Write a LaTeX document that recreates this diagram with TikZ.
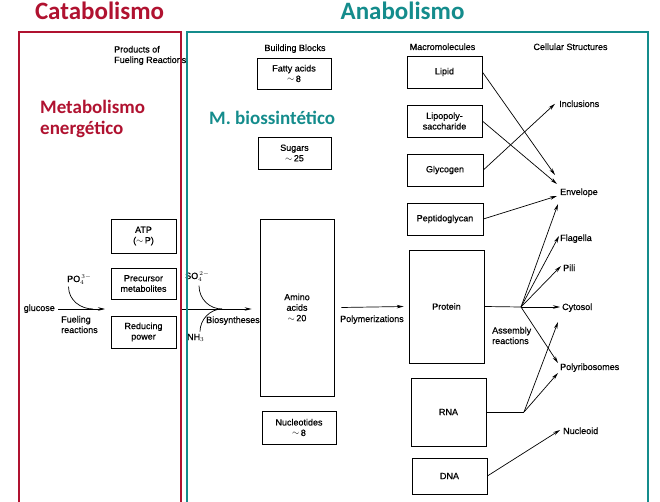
\documentclass[tikz,border=0pt]{standalone}
\usepackage{fontspec}
\setmainfont[FakeBold=0.6]{Liberation Sans}
\newfontfamily\titlefont{Carlito}
\usepackage{xcolor}
\usetikzlibrary{arrows.meta}

\definecolor{catared}{RGB}{176,18,48}
\definecolor{anateal}{RGB}{20,140,140}

\tikzset{
  blk/.style={draw, line width=0.7pt, inner sep=0pt, align=center,
    font=\fontsize{9}{10.5}\selectfont},
  lbl/.style={inner sep=0pt, align=left, font=\fontsize{9}{10.5}\selectfont},
  flow/.style={line width=0.7pt, -{Stealth[length=7pt,width=3.5pt]}},
  bigtitle/.style={inner sep=0pt, font=\titlefont\bfseries\fontsize{25}{28}\selectfont},
  subtitle/.style={inner sep=0pt, align=left, font=\titlefont\bfseries\fontsize{19}{21}\selectfont},
  framebox/.style={line width=2.5pt}
}

\begin{document}
\begin{tikzpicture}[x=1pt, y=-1pt]
        \useasboundingbox (0,0) rectangle (660,502);
        % Titles
        \node[bigtitle, text=catared, anchor=base] (cata) at (99.5,20) {Catabolismo};
        \node[bigtitle, text=anateal, anchor=base] (ana) at (402.5,20) {Anabolismo};
        \node[subtitle, text=catared, anchor=base west] (energ) at (40,135) {Metabolismo\\energético};
        \node[subtitle, text=anateal, anchor=base west] (biosint) at (209,125) {M. biossintético};
        % Headers
        \node[lbl, anchor=base west] (prodhead) at (114,63) {Products of\\Fueling Reactions};
        \node[lbl, anchor=base] (bbhead) at (295,51) {Building Blocks};
        \node[lbl, anchor=base] (mmhead) at (442.5,50) {Macromolecules};
        \node[lbl, anchor=base] (cshead) at (570.5,50) {Cellular Structures};
        % Fueling products
        \node[blk, minimum width=65, minimum height=34] (atp) at (143.5,236) {ATP\\($\sim$\,P)};
        \node[blk, minimum width=65, minimum height=31] (prec) at (143.5,283.5) {Precursor\\metabolites};
        \node[blk, minimum width=65, minimum height=32] (redpow) at (143.5,332) {Reducing\\power};
        % Building blocks
        \node[blk, minimum width=74, minimum height=31] (fatty) at (294,73.5) {Fatty acids\\$\sim$\,8};
        \node[blk, minimum width=73, minimum height=32] (sugars) at (294.5,153) {Sugars\\$\sim$\,25};
        \node[blk, minimum width=74, minimum height=177] (amino) at (297,307.5) {Amino\\acids\\$\sim$\,20};
        \node[blk, minimum width=74, minimum height=33] (nucl) at (299,427.5) {Nucleotides\\$\sim$\,8};
        % Macromolecules
        \node[blk, minimum width=75, minimum height=32] (lipid) at (444.5,72) {Lipid};
        \node[blk, minimum width=75, minimum height=32] (lps) at (444.5,121) {Lipopoly-\\saccharide};
        \node[blk, minimum width=76, minimum height=32] (glyc) at (445,170) {Glycogen};
        \node[blk, minimum width=76, minimum height=32] (pept) at (445,219) {Peptidoglycan};
        \node[blk, minimum width=75, minimum height=113] (prot) at (446.5,306.5) {Protein};
        \node[blk, minimum width=75, minimum height=68] (rna) at (448.5,412) {RNA};
        \node[blk, minimum width=75, minimum height=36] (dna) at (449.5,476) {DNA};
        % Cellular structures
        \node[lbl, anchor=base west] (incl) at (559,107) {Inclusions};
        \node[lbl, anchor=base west] (env) at (560,195) {Envelope};
        \node[lbl, anchor=base west] (flag) at (560,241) {Flagella};
        \node[lbl, anchor=base west] (pili) at (563,271) {Pili};
        \node[lbl, anchor=base west] (cyto) at (562,310) {Cytosol};
        \node[lbl, anchor=base west] (polyr) at (560,370) {Polyribosomes};
        \node[lbl, anchor=base west] (nucleoid) at (563,434) {Nucleoid};
        % Reaction labels
        \node[lbl, anchor=base east] (glucose) at (55,311) {glucose};
        \node[lbl, anchor=base west] (po4) at (67,282) {PO$_4^{\,3-}$};
        \node[lbl, anchor=base west] (fuel) at (61,333) {Fueling\\reactions};
        \node[lbl, anchor=base west] (so4) at (185,279) {SO$_4^{\,2-}$};
        \node[lbl, anchor=base west] (nh3) at (187,340) {NH$_3$};
        \node[lbl, anchor=base west] (biosyn) at (206,323) {Biosyntheses};
        \node[lbl, anchor=base west] (polym) at (340,322) {Polymerizations};
        \node[lbl, anchor=base west] (assem) at (492,344) {Assembly\\reactions};
        % Points
        \coordinate (fueltip) at (105,309);
        \coordinate (po4join) at (93,309);
        \coordinate (catout) at (181,309);
        \coordinate (biojoin) at (222,309);
        \coordinate (envA) at (555,175);
        \coordinate (envB) at (557,184);
        \coordinate (envC) at (557,196);
        \coordinate (envD) at (558,204);
        \coordinate (flagtip) at (559,236);
        \coordinate (pilitip) at (561,266);
        \coordinate (cytotip) at (560,307);
        \coordinate (cytotipB) at (558,322);
        \coordinate (polyrA) at (558,363);
        \coordinate (polyrB) at (558,373);
        \coordinate (nuctip) at (560,430);
        \coordinate (pj) at (521,307);
        \coordinate (rj) at (524,412);
        % Fueling
        \draw[flow] ([xshift=3pt]glucose.east |- fueltip) -- (fueltip);
        \draw[line width=0.7pt] ([xshift=1.5pt,yshift=-2pt]po4.south west) .. controls +(0,14) and +(-12,0) .. (po4join);
        % Biosyntheses
        \draw[flow, shorten >=8pt] (catout) -- (catout -| amino.west);
        \draw[line width=0.7pt] ([xshift=14pt,yshift=-4pt]so4.south west) .. controls +(0,14) and +(-12,0) .. (biojoin);
        \draw[line width=0.7pt] ([xshift=13pt,yshift=2pt]nh3.north west) .. controls +(0,-12) and +(-12,0) .. (biojoin);
        % Polymerizations
        \draw[flow] ([xshift=7pt]amino.east) -- ([xshift=-5pt]prot.west);
        % Assembly
        \draw[flow] (lipid.east) -- (envA);
        \draw[flow] (lps.east) -- (envB);
        \draw[flow] (glyc.east) -- ([xshift=-4pt]incl.west);
        \draw[flow] (pept.east) -- (envC);
        \draw[line width=0.7pt] (prot.east) -- (pj);
        \foreach \tip in {envD, flagtip, pilitip, cytotip, polyrA}
          \draw[flow] (pj) -- (\tip);
        \draw[line width=0.7pt] (rna.east) -- (rj);
        \draw[flow] (rj) -- (cytotipB);
        \draw[flow] (rj) -- (polyrB);
        \draw[flow] (dna.east) -- (nuctip);
        % Frames
        \draw[framebox, catared] (19,510) -- (19,32) -- (181,32) -- (181,510);
        \draw[framebox, anateal] (187,510) -- (187,32) -- (648,32) -- (648,510);
\end{tikzpicture}
\end{document}
